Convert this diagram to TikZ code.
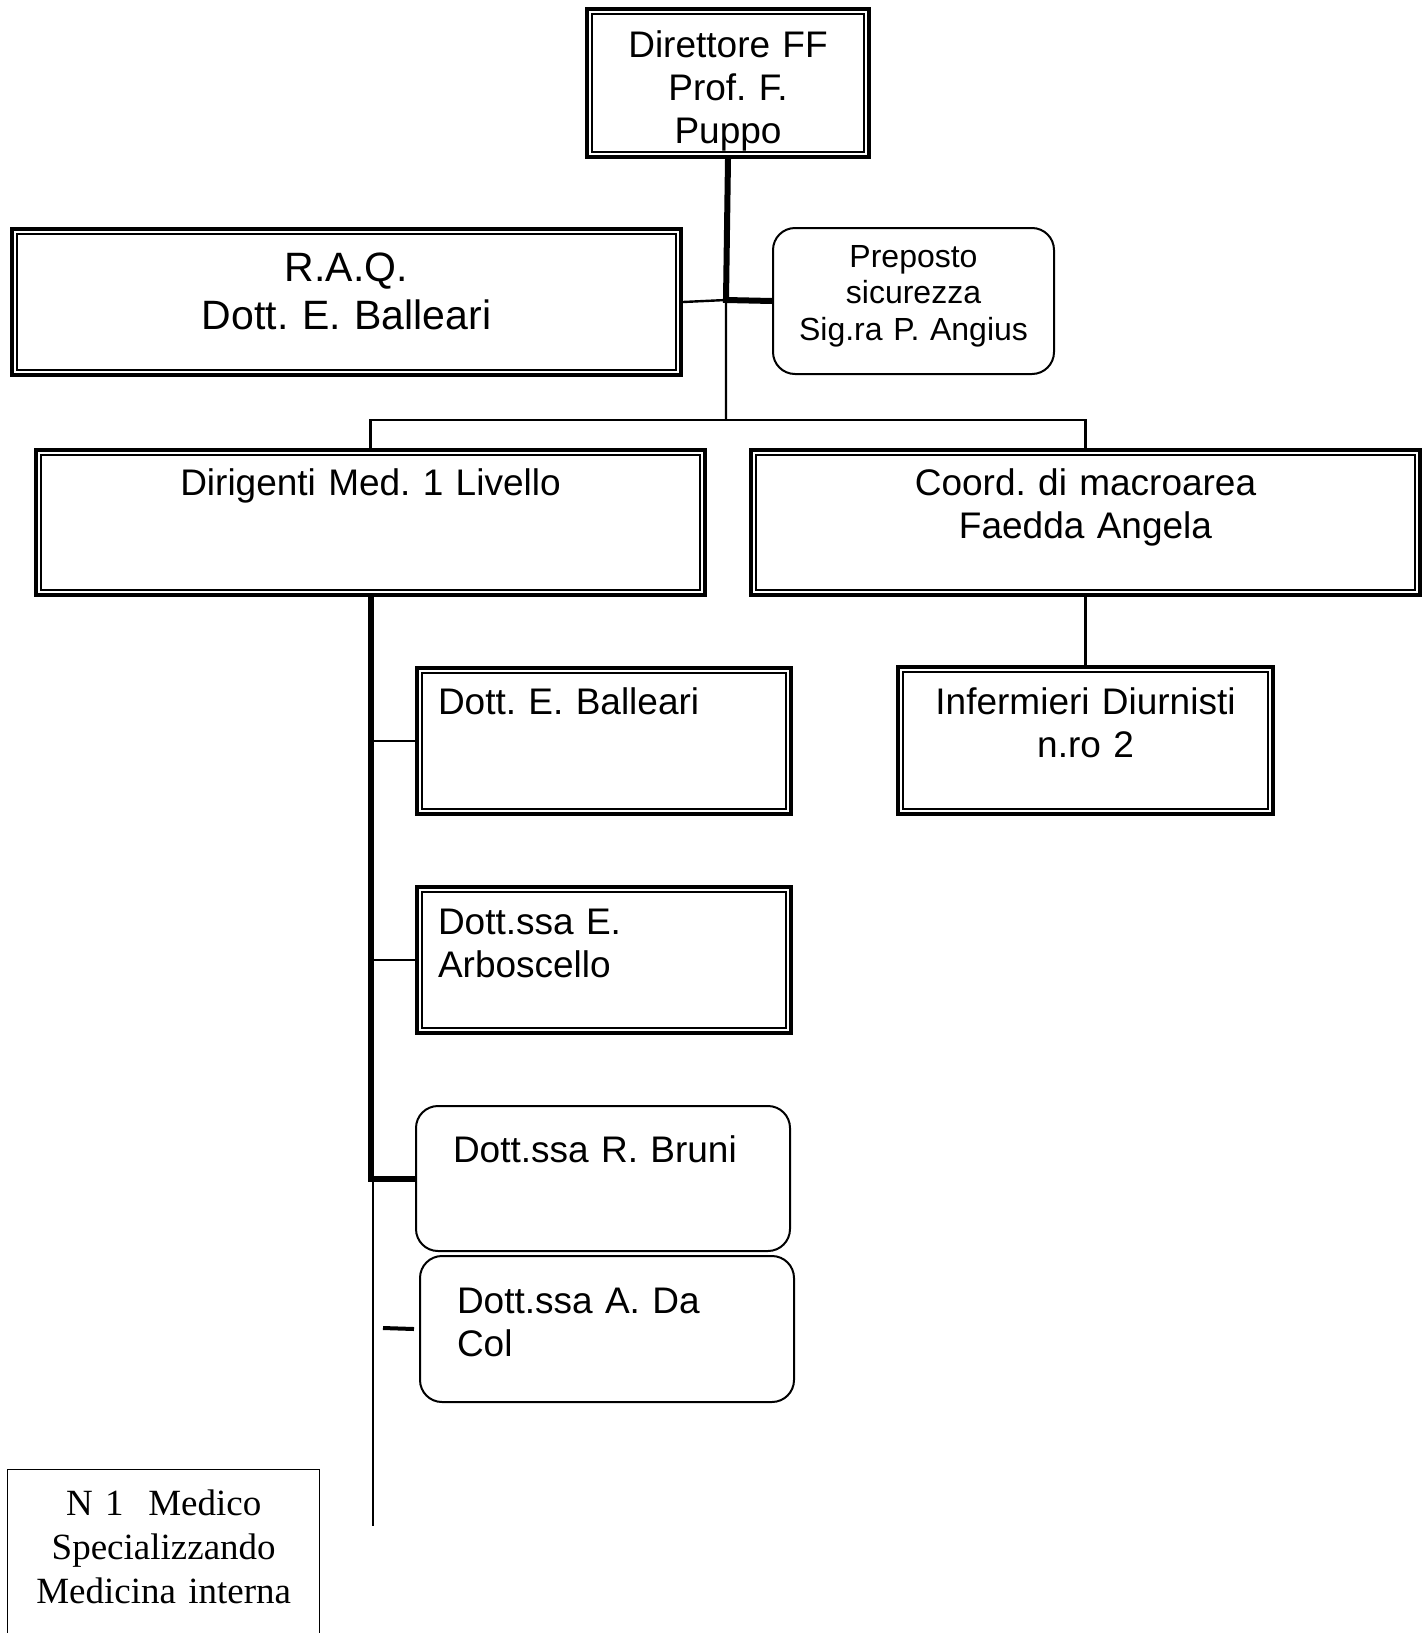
\documentclass[tikz,border=0pt]{standalone}
\usepackage{fontspec}
\setmainfont{Liberation Sans}
\newfontfamily\serifface{Liberation Serif}
\frenchspacing

\begin{document}
\begin{tikzpicture}[x=1pt, y=-1pt,
  dbox/.style={draw, line width=4pt, anchor=north west, inner ysep=0pt, inner xsep=20pt, font=\fontsize{37}{43}\selectfont,
    path picture={\draw[line width=1.2pt] ([shift={(5pt,-5pt)}]path picture bounding box.north west) rectangle ([shift={(-5pt,5pt)}]path picture bounding box.south east);}},
  rbox/.style={draw, line width=2pt, rounded corners=22pt, anchor=north west, inner ysep=0pt, inner xsep=37pt, font=\fontsize{37}{43}\selectfont},
  plainbox/.style={draw, line width=1.4pt, anchor=north west, inner ysep=0pt, inner xsep=10pt},
  thickline/.style={line width=6pt},
  thinline/.style={line width=2.4pt},
  stubline/.style={line width=4pt}
]
\useasboundingbox (0,0) rectangle (1425,1633);

\node[dbox, inner xsep=10pt, text width=262pt, text height=48pt, text depth=100pt, align=center] (direttore) at (585,7) {Direttore FF\\Prof. F.\\Puppo};
\node[dbox, font=\fontsize{41}{48.5}\selectfont, text width=629pt, text height=52pt, text depth=94pt, align=center] (raq) at (10,227) {R.A.Q.\\Dott. E. Balleari};
\node[rbox, inner xsep=10pt, font=\fontsize{32}{36.5}\selectfont, text width=261pt, text height=39pt, text depth=107pt, align=center] (preposto) at (772,227) {Preposto\\sicurezza\\Sig.ra P. Angius};

\node[dbox, text width=629pt, text height=45pt, text depth=100pt, align=center] (dirigenti) at (34,448) {Dirigenti Med. 1 Livello};
\node[dbox, text width=629pt, text height=45pt, text depth=100pt, align=center] (coord) at (749,448) {Coord. di macroarea\\Faedda Angela};
\node[dbox, text width=335pt, text height=47pt, text depth=100pt, align=center] (infermieri) at (896,665) {Infermieri Diurnisti\\n.ro 2};

\node[dbox, inner xsep=21pt, text width=332pt, text height=46pt, text depth=100pt, align=left] (balleari) at (415,666) {Dott. E. Balleari};
\node[dbox, inner xsep=21pt, text width=332pt, text height=47pt, text depth=99pt, align=left] (arboscello) at (415,885) {Dott.ssa E.\\Arboscello};
\node[rbox, text width=300pt, text height=56pt, text depth=89pt, align=left] (bruni) at (415,1105) {Dott.ssa R. Bruni};
\node[rbox, text width=300pt, text height=57pt, text depth=89pt, align=left] (dacol) at (419,1255) {Dott.ssa A. Da\\Col};

\node[plainbox, font=\serifface\fontsize{37}{44}\selectfont, text width=292pt, text height=46pt, text depth=154pt, align=center] (medico) at (7,1469) {N 1\ \ Medico\\Specializzando\\Medicina interna};

\coordinate (joint) at (726,300);
\coordinate (bus) at (726,420);
\draw[thinline] (raq.east) -- (joint) -- (bus);
\draw[thickline] (direttore.south) -- (joint) -- (preposto.west);
\draw[thinline] (dirigenti.north) |- (bus) -| (coord.north);
\draw[thinline] (coord.south) -- (infermieri.north);

\coordinate (trunktop) at (373,1140);
\coordinate (trunkend) at (373,1526);
\draw[thickline] (dirigenti.south) |- (bruni.west);
\draw[thinline] (trunktop) -- (trunkend);
\draw[thinline] (balleari.west -| dirigenti.south) -- (balleari.west);
\draw[thinline] (arboscello.west -| dirigenti.south) -- (arboscello.west);
\coordinate (stub) at (383,1328);
\draw[stubline] (stub) -- ([xshift=-5pt]dacol.west);

\end{tikzpicture}
\end{document}
